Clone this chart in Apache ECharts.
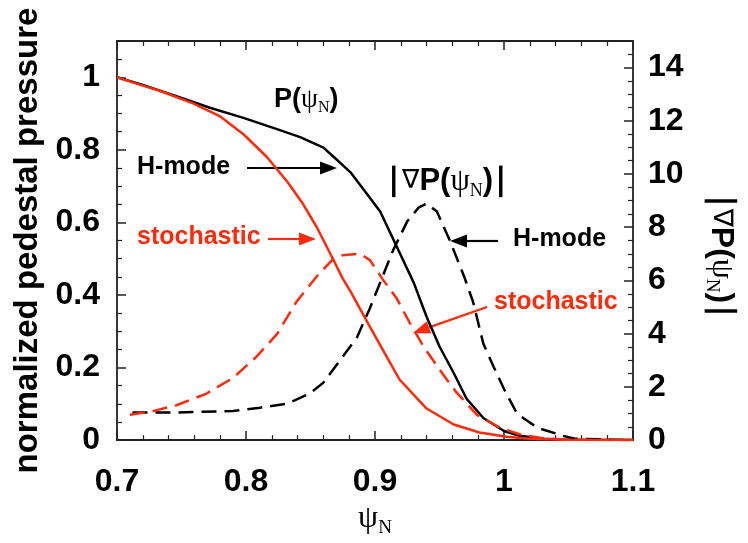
<!DOCTYPE html>
<html>
<head>
<meta charset="utf-8">
<script src="https://cdn.jsdelivr.net/npm/echarts@6/dist/echarts.min.js"></script>
<style>
  html, body { margin: 0; padding: 0; background: #fff; }
  #chart { width: 748px; height: 543px; }
</style>
</head>
<body>
<div id="chart"></div>
<script>
// P(psi_N), H-mode (left axis)
const psiPH = [0.700, 0.720, 0.746, 0.772, 0.798, 0.824, 0.842, 0.860, 0.870, 0.881, 0.896, 0.904, 0.917, 0.930, 0.940, 0.950, 0.961, 0.971, 0.984, 1.000, 1.012, 1.030, 1.050, 1.100]
const valPH = [1.000, 0.979, 0.948, 0.916, 0.888, 0.857, 0.835, 0.806, 0.774, 0.738, 0.668, 0.630, 0.532, 0.434, 0.340, 0.258, 0.185, 0.114, 0.061, 0.025, 0.012, 0.004, 0.001, 0.000]

// P(psi_N), stochastic (left axis)
const psiPS = [0.700, 0.720, 0.733, 0.759, 0.780, 0.798, 0.816, 0.832, 0.844, 0.855, 0.868, 0.875, 0.881, 0.896, 0.909, 0.919, 0.940, 0.961, 0.981, 1.002, 1.020, 1.050, 1.100]
const valPS = [1.000, 0.977, 0.963, 0.928, 0.892, 0.843, 0.781, 0.712, 0.652, 0.586, 0.495, 0.445, 0.410, 0.313, 0.230, 0.167, 0.087, 0.043, 0.021, 0.009, 0.004, 0.001, 0.000]

// |grad P|, H-mode (right axis)
const psiGH = [0.712, 0.746, 0.790, 0.811, 0.832, 0.850, 0.860, 0.873, 0.886, 0.896, 0.901, 0.914, 0.925, 0.934, 0.940, 0.948, 0.958, 0.969, 0.976, 0.984, 0.992, 1.000, 1.010, 1.026, 1.046, 1.055, 1.100]
const valGH = [1.04, 1.04, 1.09, 1.22, 1.37, 1.77, 2.16, 3.01, 3.86, 4.95, 5.56, 7.13, 8.22, 8.75, 8.89, 8.59, 7.50, 6.16, 5.20, 3.62, 2.75, 1.92, 1.00, 0.46, 0.16, 0.05, 0.00]

// |grad P|, stochastic (right axis)
const psiGS = [0.710, 0.728, 0.746, 0.769, 0.790, 0.808, 0.824, 0.839, 0.855, 0.868, 0.875, 0.888, 0.896, 0.906, 0.917, 0.927, 0.938, 0.950, 0.963, 0.979, 0.997, 1.012, 1.030, 1.050, 1.100]
const valGS = [0.95, 1.09, 1.31, 1.74, 2.34, 3.13, 3.98, 5.19, 6.16, 6.83, 6.95, 7.01, 6.77, 6.04, 5.31, 4.40, 3.49, 2.65, 1.80, 0.95, 0.46, 0.22, 0.07, 0.01, 0.00]

const RED = '#ff2a0a'
const SANS = 'Liberation Sans, Arial, Helvetica, sans-serif'
const SERIF = 'Liberation Serif, Times New Roman, serif'
const SYM = 'DejaVu Sans, sans-serif'

const pairs = (xs, ys) => xs.map((x, i) => [x, ys[i]])

function arrow(x1, y1, x2, y2, color) {
    const dx = x2 - x1, dy = y2 - y1
    const len = Math.sqrt(dx * dx + dy * dy)
    const ux = dx / len, uy = dy / len
    const hl = 17, hw = 6.5
    const bx = x2 - ux * hl, by = y2 - uy * hl
    return [
        { type: 'line', shape: { x1, y1, x2: bx, y2: by }, style: { stroke: color, lineWidth: 2.2 } },
        { type: 'polygon', shape: { points: [[x2, y2], [bx - uy * hw, by + ux * hw], [bx + uy * hw, by - ux * hw]] }, style: { fill: color } }
    ]
}

// rich styles for |∇P(ψN)| type labels
function gradRich(size, key) {
    const lh = Math.round(size * 1.2)
    const c = '#000'
    const st = {
        b: { fontFamily: SANS, fontWeight: 'bold', fontSize: size, lineHeight: lh, verticalAlign: 'middle' },
        v: { fontFamily: SYM, fontSize: Math.round(size * 0.85), lineHeight: lh, verticalAlign: 'middle' },
        s: { fontFamily: SERIF, fontSize: size, lineHeight: lh, verticalAlign: 'middle' },
        n: { fontFamily: SERIF, fontSize: Math.round(size * 0.58), lineHeight: Math.round(size * 0.6), verticalAlign: 'bottom' }
    }
    Object.values(st).forEach(s => { s[key] = c })
    return st
}

const axisTickStyle = { show: true, inside: true, length: 9, lineStyle: { color: '#222', width: 1.5 } }
const minorTickStyle = (n) => ({ show: true, splitNumber: n, length: 5, lineStyle: { color: '#222', width: 1.2 } })
const axisLineStyle = { show: true, onZero: false, lineStyle: { color: '#222', width: 1.8 } }
const labelStyle = { color: '#000', fontFamily: SANS, fontWeight: 'bold', fontSize: 32 }

const myChart = echarts.init(document.getElementById('chart'), null, { renderer: 'canvas' })

const option = {
    backgroundColor: '#fff',
    animation: false,
    grid: { left: 117, right: 115, top: 41, bottom: 90, containLabel: false },
    xAxis: [
        {
            type: 'value', min: 0.7, max: 1.1, interval: 0.1,
            name: '{s|ψ}{n|N}', nameLocation: 'middle', nameGap: 58,
            nameTextStyle: { rich: gradRich(32, 'color') },
            axisLine: axisLineStyle, axisTick: axisTickStyle, minorTick: minorTickStyle(5),
            splitLine: { show: false },
            axisLabel: Object.assign({ margin: 26, formatter: v => String(+v.toFixed(1)) }, labelStyle)
        },
        {
            type: 'value', min: 0.7, max: 1.1, interval: 0.1, position: 'top',
            axisLine: axisLineStyle, axisTick: axisTickStyle, minorTick: minorTickStyle(5),
            splitLine: { show: false }, axisLabel: { show: false }
        }
    ],
    yAxis: [
        {
            type: 'value', min: 0, max: 1.1, interval: 0.2,
            name: 'normalized pedestal pressure', nameLocation: 'middle', nameGap: 61, nameRotate: 90,
            nameTextStyle: { fontFamily: SANS, fontWeight: 'bold', fontSize: 33, color: '#000' },
            axisLine: axisLineStyle, axisTick: axisTickStyle, minorTick: minorTickStyle(4),
            splitLine: { show: false },
            axisLabel: Object.assign({ margin: 17, formatter: v => v > 1.05 ? '' : String(+v.toFixed(1)) }, labelStyle)
        },
        {
            type: 'value', min: 0, max: 15, interval: 2, position: 'right',
            axisLine: axisLineStyle, axisTick: axisTickStyle, minorTick: minorTickStyle(4),
            splitLine: { show: false },
            axisLabel: Object.assign({ margin: 15, formatter: v => v > 14.5 ? '' : String(v) }, labelStyle)
        }
    ],
    series: [
        {
            name: 'P H-mode', type: 'line', xAxisIndex: 0, yAxisIndex: 0, showSymbol: false,
            data: pairs(psiPH, valPH), lineStyle: { color: '#000', width: 2.5 }, z: 3
        },
        {
            name: 'gradP H-mode', type: 'line', xAxisIndex: 0, yAxisIndex: 1, showSymbol: false,
            data: pairs(psiGH, valGH), lineStyle: { color: '#000', width: 2.5, type: [15, 8] }, z: 3
        },
        {
            name: 'gradP stochastic', type: 'line', xAxisIndex: 0, yAxisIndex: 1, showSymbol: false,
            data: pairs(psiGS, valGS), lineStyle: { color: RED, width: 2.5, type: [15, 8] }, z: 4
        },
        {
            name: 'P stochastic', type: 'line', xAxisIndex: 0, yAxisIndex: 0, showSymbol: false,
            data: pairs(psiPS, valPS), lineStyle: { color: RED, width: 2.5 }, z: 4
        }
    ],
    graphic: [
        {
            type: 'text', left: 274, top: 86,
            style: { text: '{b|P(}{s|ψ}{n|N}{b|)}', rich: gradRich(27, 'fill') }
        },
        {
            type: 'text', left: 386, top: 166,
            style: { text: '{b|\u2223}{v|\u2207}{b|P(}{s|ψ}{n|N}{b|)\u2223}', rich: gradRich(31, 'fill') }
        },
        {
            type: 'text', x: 721, y: 256, rotation: -Math.PI / 2,
            style: { text: '{b|\u2223}{v|\u2207}{b|P(}{s|ψ}{n|N}{b|)\u2223}', rich: gradRich(32, 'fill'), align: 'center', verticalAlign: 'middle' }
        },
        { type: 'text', left: 137, top: 155, style: { text: 'H-mode', fill: '#000', font: 'bold 25px ' + SANS } },
        { type: 'text', left: 137, top: 225, style: { text: 'stochastic', fill: RED, font: 'bold 25px ' + SANS } },
        { type: 'text', left: 513, top: 227, style: { text: 'H-mode', fill: '#000', font: 'bold 25px ' + SANS } },
        { type: 'text', left: 494, top: 290, style: { text: 'stochastic', fill: RED, font: 'bold 25px ' + SANS } },
        ...arrow(247, 168, 337, 168, '#000'),
        ...arrow(268, 239, 316, 239, RED),
        ...arrow(498, 241, 450, 241, '#000'),
        ...arrow(487, 307, 413, 333, RED)
    ]
}

myChart.setOption(option)
</script>
</body>
</html>
